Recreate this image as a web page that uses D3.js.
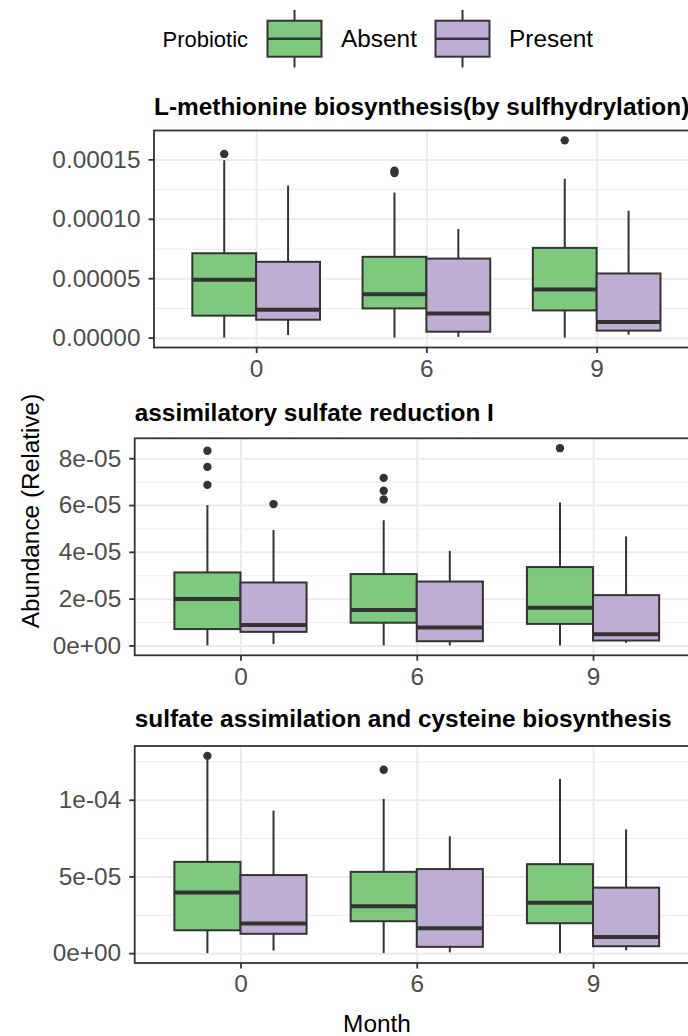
<!DOCTYPE html>
<html>
<head>
<meta charset="utf-8">
<script src="https://cdn.jsdelivr.net/npm/d3@7"></script>
<style>
  body { margin: 0; background: #fff; }
  svg { display: block; }
</style>
</head>
<body>
<script>
// categories
const months = ["0", "6", "9"];
const probiotic = ["Absent", "Present"];
const titles = [
  "L-methionine biosynthesis(by sulfhydrylation)",
  "assimilatory sulfate reduction I",
  "sulfate assimilation and cysteine biosynthesis"
];

// box stats: month, group, lower whisker, Q1, median, Q3, upper whisker
const methionineBoxes = [
  ["0", "Absent",  0,       1.85e-5, 4.87e-5, 7.10e-5, 14.93e-5],
  ["0", "Present", 0.22e-5, 1.51e-5, 2.35e-5, 6.38e-5, 12.80e-5],
  ["6", "Absent",  0,       2.46e-5, 3.66e-5, 6.80e-5, 12.20e-5],
  ["6", "Present", 0.06e-5, 0.50e-5, 2.04e-5, 6.65e-5, 9.14e-5],
  ["9", "Absent",  0,       2.29e-5, 4.05e-5, 7.55e-5, 13.37e-5],
  ["9", "Present", 0.25e-5, 0.59e-5, 1.31e-5, 5.40e-5, 10.68e-5]
];
const methionineOutliers = [
  ["0", "Absent", 15.46e-5], ["6", "Absent", 14.05e-5],
  ["6", "Absent", 13.85e-5], ["9", "Absent", 16.60e-5]
];

const sulfateBoxes = [
  ["0", "Absent",  0,       0.70e-5, 1.98e-5, 3.12e-5, 6.00e-5],
  ["0", "Present", 0.06e-5, 0.58e-5, 0.87e-5, 2.69e-5, 4.93e-5],
  ["6", "Absent",  0,       0.97e-5, 1.51e-5, 3.05e-5, 5.35e-5],
  ["6", "Present", 0,       0.18e-5, 0.77e-5, 2.73e-5, 4.04e-5],
  ["9", "Absent",  0,       0.92e-5, 1.61e-5, 3.35e-5, 6.11e-5],
  ["9", "Present", 0.11e-5, 0.21e-5, 0.48e-5, 2.15e-5, 4.66e-5]
];
const sulfateOutliers = [
  ["0", "Absent", 8.32e-5], ["0", "Absent", 7.63e-5], ["0", "Absent", 6.86e-5],
  ["0", "Present", 6.04e-5],
  ["6", "Absent", 7.16e-5], ["6", "Absent", 6.61e-5], ["6", "Absent", 6.24e-5],
  ["9", "Absent", 8.43e-5]
];

const cysteineBoxes = [
  ["0", "Absent",  0,       1.49e-5, 3.96e-5, 5.95e-5, 12.60e-5],
  ["0", "Present", 0.17e-5, 1.26e-5, 1.93e-5, 5.09e-5, 9.29e-5],
  ["6", "Absent",  0,       2.08e-5, 3.05e-5, 5.30e-5, 10.06e-5],
  ["6", "Present", 0.05e-5, 0.41e-5, 1.62e-5, 5.48e-5, 7.62e-5],
  ["9", "Absent",  0,       1.95e-5, 3.29e-5, 5.80e-5, 11.36e-5],
  ["9", "Present", 0.19e-5, 0.45e-5, 1.06e-5, 4.27e-5, 8.07e-5]
];
const cysteineOutliers = [["0", "Absent", 12.86e-5], ["6", "Absent", 11.95e-5]];

// y ticks
const methionineTicks = [0, 5e-5, 1e-4, 1.5e-4];
const methionineLabels = ["0.00000", "0.00005", "0.00010", "0.00015"];
const methionineMinor = [2.5e-5, 7.5e-5, 1.25e-4];
const sulfateTicks = [0, 2e-5, 4e-5, 6e-5, 8e-5];
const sulfateLabels = ["0e+00", "2e-05", "4e-05", "6e-05", "8e-05"];
const sulfateMinor = [1e-5, 3e-5, 5e-5, 7e-5];
const cysteineTicks = [0, 5e-5, 1e-4];
const cysteineLabels = ["0e+00", "5e-05", "1e-04"];
const cysteineMinor = [2.5e-5, 7.5e-5, 1.25e-4];

var fills = {Absent: "#7FC97F", Present: "#BEAED4"};
var ink = "#333333";
var fontSize = 24.4;

var svg = d3.select("body").append("svg")
  .attr("width", 688).attr("height", 1036)
  .style("font-family", "'Liberation Sans', Arial, sans-serif");

var panelRight = 698.8;
var panelH = 217;
var layout = [
  {left: 154, top: 130.5, titleY: 115},
  {left: 134.7, top: 438.3, titleY: 421},
  {left: 134.7, top: 746, titleY: 727}
];

function drawPanel(p, title, boxes, outliers, ticks, labels, minor) {
  var L = layout[p], top = L.top, left = L.left, bottom = top + panelH;
  var W = panelRight - left;
  var vals = boxes.flatMap(b => [b[2], b[6]]).concat(outliers.map(o => o[2]));
  var ext = d3.extent(vals), pad = (ext[1] - ext[0]) * 0.05;
  var y = d3.scaleLinear().domain([ext[0] - pad, ext[1] + pad]).range([bottom, top]);
  var x = d3.scalePoint().domain(months).range([left, panelRight]).padding(0.6);
  var step = x.step();
  var dodge = d3.scaleBand().domain(probiotic).range([-0.375 * step, 0.375 * step]);

  var g = svg.append("g");

  // grid
  g.append("g").attr("transform", "translate(" + left + ",0)")
    .call(d3.axisLeft(y).tickValues(minor).tickSize(-W).tickFormat(""))
    .call(a => a.select(".domain").remove())
    .selectAll("line").attr("stroke", "#EBEBEB").attr("stroke-width", 1);
  g.append("g").attr("transform", "translate(" + left + ",0)")
    .call(d3.axisLeft(y).tickValues(ticks).tickSize(-W).tickFormat(""))
    .call(a => a.select(".domain").remove())
    .selectAll("line").attr("stroke", "#EBEBEB").attr("stroke-width", 2);
  g.append("g").attr("transform", "translate(0," + bottom + ")")
    .call(d3.axisBottom(x).tickSize(-panelH).tickFormat(""))
    .call(a => a.select(".domain").remove())
    .selectAll("line").attr("stroke", "#EBEBEB").attr("stroke-width", 2);

  var cx = d => x(d[0]) + dodge(d[1]) + dodge.bandwidth() / 2;
  var bw = dodge.bandwidth();

  // whiskers
  g.selectAll(".whi").data(boxes).join("line")
    .attr("x1", cx).attr("x2", cx)
    .attr("y1", d => y(d[6])).attr("y2", d => y(d[5]))
    .attr("stroke", ink).attr("stroke-width", 2);
  g.selectAll(".wlo").data(boxes).join("line")
    .attr("x1", cx).attr("x2", cx)
    .attr("y1", d => y(d[3])).attr("y2", d => y(d[2]))
    .attr("stroke", ink).attr("stroke-width", 2);

  // boxes
  g.selectAll(".box").data(boxes).join("rect")
    .attr("x", d => cx(d) - bw / 2).attr("width", bw)
    .attr("y", d => y(d[5])).attr("height", d => y(d[3]) - y(d[5]))
    .attr("fill", d => fills[d[1]]).attr("stroke", ink).attr("stroke-width", 2);
  g.selectAll(".med").data(boxes).join("line")
    .attr("x1", d => cx(d) - bw / 2).attr("x2", d => cx(d) + bw / 2)
    .attr("y1", d => y(d[4])).attr("y2", d => y(d[4]))
    .attr("stroke", ink).attr("stroke-width", 4);

  // outliers
  g.selectAll(".out").data(outliers).join("circle")
    .attr("cx", cx).attr("cy", d => y(d[2])).attr("r", 4.2)
    .attr("fill", ink);

  // border
  g.append("rect").attr("x", left).attr("y", top).attr("width", W).attr("height", panelH)
    .attr("fill", "none").attr("stroke", ink).attr("stroke-width", 1.8);

  // axes
  var ya = g.append("g").attr("transform", "translate(" + left + ",0)")
    .call(d3.axisLeft(y).tickValues(ticks).tickFormat((d, i) => labels[i]).tickSize(5.5).tickPadding(8));
  var xa = g.append("g").attr("transform", "translate(0," + bottom + ")")
    .call(d3.axisBottom(x).tickSize(5.5).tickPadding(6.5));
  [ya, xa].forEach(a => {
    a.select(".domain").remove();
    a.selectAll("line").attr("stroke", ink).attr("stroke-width", 1.8);
    a.selectAll("text").attr("fill", "#4D4D4D").style("font-size", fontSize + "px")
      .style("font-family", "'Liberation Sans', Arial, sans-serif");
  });

  // title
  svg.append("text").attr("x", left).attr("y", L.titleY)
    .style("font-size", fontSize + "px").style("font-weight", "bold")
    .attr("fill", "#000").text(title);
}

drawPanel(0, titles[0], methionineBoxes, methionineOutliers, methionineTicks, methionineLabels, methionineMinor);
drawPanel(1, titles[1], sulfateBoxes, sulfateOutliers, sulfateTicks, sulfateLabels, sulfateMinor);
drawPanel(2, titles[2], cysteineBoxes, cysteineOutliers, cysteineTicks, cysteineLabels, cysteineMinor);

// axis titles
svg.append("text").attr("transform", "translate(39,511) rotate(-90)")
  .attr("text-anchor", "middle").style("font-size", fontSize + "px").text("Abundance (Relative)");
svg.append("text").attr("x", 377).attr("y", 1032)
  .attr("text-anchor", "middle").style("font-size", fontSize + "px").text("Month");

// legend
var legend = svg.append("g");
legend.append("text").attr("x", 162.5).attr("y", 46.5).style("font-size", "22px").text("Probiotic");
var keyX = d3.scaleOrdinal().domain(probiotic).range([294.5, 462.5]);
var keys = legend.selectAll(".key").data(probiotic).join("g")
  .attr("transform", d => "translate(" + keyX(d) + ",38.7)");
keys.append("line").attr("y1", -28.8).attr("y2", 28.8)
  .attr("stroke", ink).attr("stroke-width", 2);
keys.append("rect").attr("x", -27).attr("y", -18).attr("width", 54).attr("height", 36)
  .attr("fill", d => fills[d]).attr("stroke", ink).attr("stroke-width", 2);
keys.append("line").attr("x1", -27).attr("x2", 27)
  .attr("stroke", ink).attr("stroke-width", 2.5);
keys.append("text").attr("x", 46.5).attr("y", 8)
  .style("font-size", fontSize + "px").text(d => d);
</script>
</body>
</html>
